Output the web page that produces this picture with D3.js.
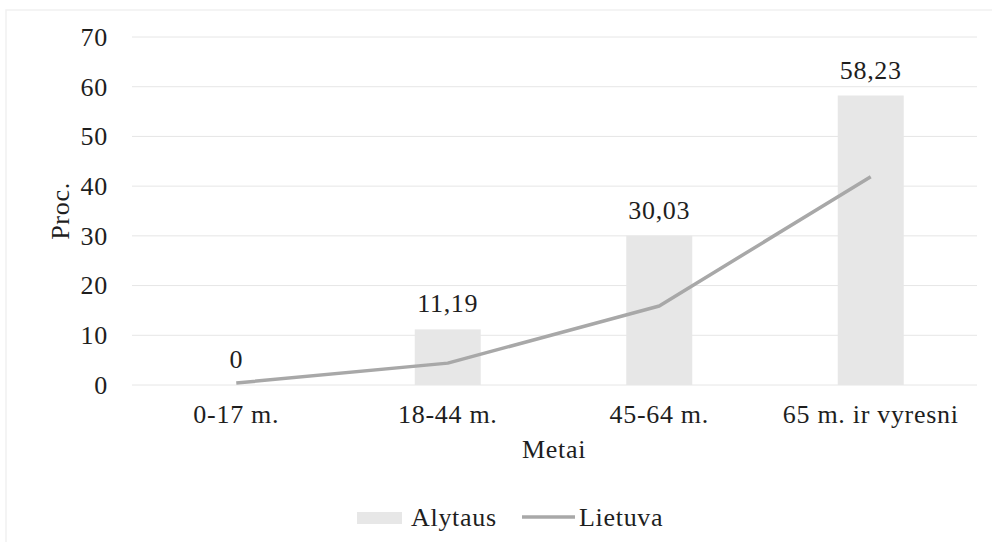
<!DOCTYPE html>
<html>
<head>
<meta charset="utf-8">
<script src="https://cdn.jsdelivr.net/npm/d3@7"></script>
<style>
  body { margin: 0; background: #fff; }
  svg text { font-family: "Liberation Serif", "Times New Roman", "Tinos" !important; letter-spacing: 0.7px; }
</style>
</head>
<body>
<svg id="chart" width="992" height="542"></svg>
<script>
// chart data
const categories = ["0-17 m.", "18-44 m.", "45-64 m.", "65 m. ir vyresni"];
const alytaus = [0, 11.19, 30.03, 58.23];   // bars
const lietuva = [0.4, 4.4, 15.9, 41.9];     // line
const yTicks = [0, 10, 20, 30, 40, 50, 60, 70];
const fmt = v => String(v).replace(".", ",");

const width = 992, height = 542;
const margin = { top: 37, right: 17, bottom: 157, left: 132 };
const fontSize = 26;
const textColor = "#1e1e1e";

const svg = d3.select("#chart");

// faint frame of the chart area (top and left edges visible in scan)
svg.append("path")
  .attr("d", "M6,542V10H992")
  .attr("fill", "none")
  .attr("stroke", "#f1f1f1")
  .attr("stroke-width", 1.5);

const x = d3.scaleBand()
  .domain(categories)
  .range([margin.left, width - margin.right])
  .paddingInner(0.688).paddingOuter(0.337);

const y = d3.scaleLinear()
  .domain([0, 70])
  .range([height - margin.bottom, margin.top]);

// gridlines
svg.append("g")
  .selectAll("line").data(yTicks).join("line")
  .attr("x1", margin.left).attr("x2", width - margin.right + 2)
  .attr("y1", d => y(d)).attr("y2", d => y(d))
  .attr("stroke", "#e6e6e6").attr("stroke-width", 1);

// y axis labels
const yAxis = d3.axisLeft(y).tickValues(yTicks).tickSize(0).tickPadding(24);
svg.append("g")
  .attr("transform", `translate(${margin.left},0)`)
  .call(yAxis)
  .call(g => g.select(".domain").remove())
  .call(g => g.selectAll("text").attr("font-size", fontSize).attr("fill", textColor));

// x axis labels
const xAxis = d3.axisBottom(x).tickSize(0).tickPadding(20);
svg.append("g")
  .attr("transform", `translate(0,${y(0)})`)
  .call(xAxis)
  .call(g => g.select(".domain").remove())
  .call(g => g.selectAll("text").attr("font-size", fontSize).attr("fill", textColor));

// bars
svg.append("g")
  .selectAll("rect").data(alytaus).join("rect")
  .attr("x", (d, i) => x(categories[i]))
  .attr("width", x.bandwidth())
  .attr("y", d => y(d))
  .attr("height", d => y(0) - y(d))
  .attr("fill", "#e7e7e7");

// line
const line = d3.line()
  .x((d, i) => x(categories[i]) + x.bandwidth() / 2)
  .y(d => y(d));
svg.append("path")
  .datum(lietuva)
  .attr("d", line)
  .attr("fill", "none")
  .attr("stroke", "#a8a8a8")
  .attr("stroke-width", 3.5)
  .attr("stroke-linejoin", "round");

// bar value labels
svg.append("g")
  .selectAll("text").data(alytaus).join("text")
  .attr("x", (d, i) => x(categories[i]) + x.bandwidth() / 2)
  .attr("y", d => y(d) - 17)
  .attr("text-anchor", "middle")
  .attr("font-size", fontSize).attr("fill", textColor)
  .text(d => fmt(d));

// axis titles
svg.append("text")
  .attr("x", 554)
  .attr("y", 458)
  .attr("text-anchor", "middle")
  .attr("font-size", fontSize).attr("fill", textColor)
  .text("Metai");

svg.append("text")
  .attr("transform", `translate(69,${(y(0) + y(70)) / 2}) rotate(-90)`)
  .attr("text-anchor", "middle")
  .attr("font-size", fontSize).attr("fill", textColor)
  .text("Proc.");

// legend
const legend = svg.append("g").attr("transform", "translate(357,518)");
legend.append("rect")
  .attr("x", 0).attr("y", -6).attr("width", 45).attr("height", 12)
  .attr("fill", "#e7e7e7");
legend.append("text")
  .attr("x", 54).attr("y", 8)
  .attr("font-size", fontSize).attr("fill", textColor)
  .text("Alytaus");
legend.append("line")
  .attr("x1", 165).attr("x2", 218).attr("y1", -1).attr("y2", -1)
  .attr("stroke", "#a8a8a8").attr("stroke-width", 3.5);
legend.append("text")
  .attr("x", 222).attr("y", 8)
  .attr("font-size", fontSize).attr("fill", textColor)
  .text("Lietuva");
</script>
</body>
</html>
